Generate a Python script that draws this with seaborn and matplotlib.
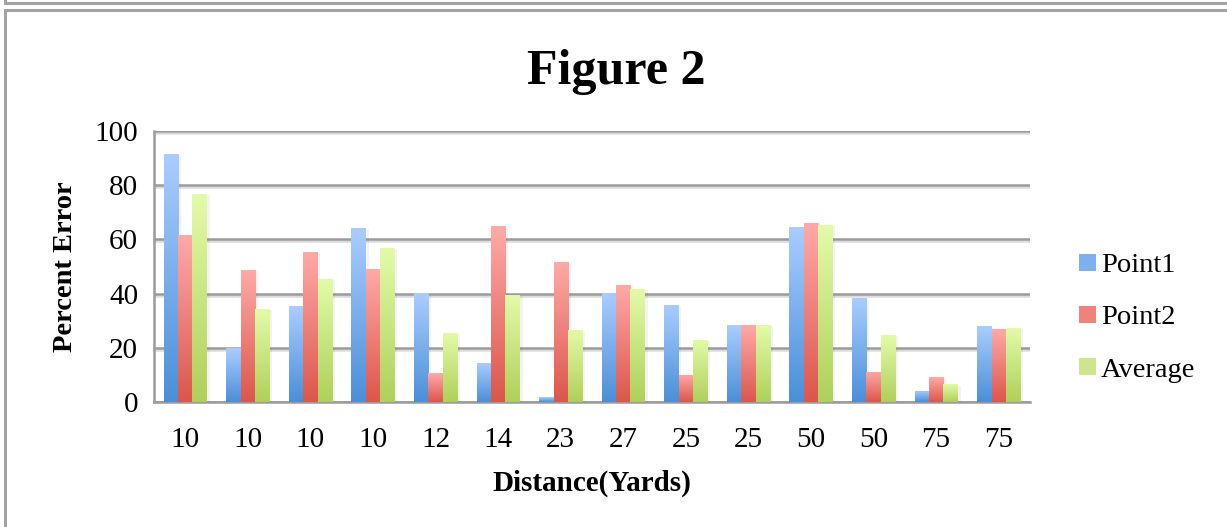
import numpy as np
import pandas as pd
import matplotlib
matplotlib.use("Agg")
import matplotlib.pyplot as plt
import matplotlib.patheffects as pe
from matplotlib.colors import LinearSegmentedColormap
from matplotlib.lines import Line2D
from matplotlib.patches import Patch
import seaborn as sns

# Distances (yards) for each trial, in recorded order
distances = ["10", "10", "10", "10", "12", "14", "23", "27", "25", "25", "50", "50", "75", "75"]
# Percent error per trial
point1 = [91.5, 19.9, 35.4, 64.2, 40.2, 14.4, 1.8, 40.2, 35.8, 28.4, 64.6, 38.4, 4.1, 28.0]
point2 = [61.6, 48.7, 55.4, 49.1, 10.7, 64.9, 51.7, 43.2, 10.0, 28.4, 66.1, 11.1, 9.2, 27.0]
average = [76.8, 34.3, 45.4, 56.8, 25.5, 39.5, 26.6, 41.7, 22.9, 28.4, 65.3, 24.7, 6.6, 27.4]
series_names = ["Point1", "Point2", "Average"]

# (bottom colour, top colour) of each bar gradient
gradients = {
    "Point1": ("#4a8fd8", "#aacdff"),
    "Point2": ("#dc564b", "#ffaaa8"),
    "Average": ("#afd05a", "#e3fba9"),
}
legend_colors = {"Point1": "#7fb0ee", "Point2": "#ef837b", "Average": "#cde58c"}

slots = [f"t{i:02d}" for i in range(len(distances))]
df = pd.DataFrame({
    "slot": slots * 3,
    "series": np.repeat(series_names, len(slots)),
    "value": point1 + point2 + average,
})

sns.set_theme(style="white")
plt.rcParams["font.family"] = ["Liberation Serif", "DejaVu Serif"]
plt.rcParams["text.color"] = "black"
plt.rcParams["axes.labelcolor"] = "black"

GRAY = "#9b9b9b"
fig = plt.figure(figsize=(12.27, 5.27), dpi=100)
ax = fig.add_axes([154 / 1227, 1 - 402 / 527, 876 / 1227, 271 / 527])

sns.barplot(data=df, x="slot", y="value", hue="series", order=slots,
            hue_order=series_names, palette=legend_colors, width=0.69,
            saturation=1, legend=False, ax=ax, zorder=3)

# Vertical gradient fill for every bar, clipped to the bar outline
grad = np.linspace(0, 1, 256).reshape(-1, 1)
for i, patch in enumerate(ax.patches):
    name = series_names[i // len(slots)]
    cmap = LinearSegmentedColormap.from_list(name, gradients[name])
    x0, y0 = patch.get_x(), patch.get_y()
    w, h = patch.get_width(), patch.get_height()
    patch.set_edgecolor("none")
    patch.set_path_effects([pe.SimplePatchShadow(offset=(2, -1), alpha=0.07, shadow_rgbFace="#555555"),
                            pe.Normal()])
    im = ax.imshow(grad, cmap=cmap, origin="lower", aspect="auto",
                   extent=[x0, x0 + w, y0, y0 + h], zorder=4)
    im.set_clip_path(patch)

ax.set_xlim(-0.5, len(slots) - 0.5)
ax.set_ylim(0, 100)
ax.set_yticks(range(0, 101, 20))
ax.set_xticks(range(len(slots)))
ax.set_xticklabels(distances)
ax.set_xticks(np.arange(-0.5, len(slots), 1.0), minor=True)

ax.yaxis.grid(True, color=GRAY, lw=1.8)
for gl in ax.get_ygridlines():
    gl.set_path_effects([pe.SimpleLineShadow(offset=(0, -1.5), alpha=0.15), pe.Normal()])
ax.set_axisbelow(True)

for side in ["top", "right"]:
    ax.spines[side].set_visible(False)
for side in ["left", "bottom"]:
    ax.spines[side].set_color(GRAY)
    ax.spines[side].set_linewidth(1.8)

ax.tick_params(axis="y", which="major", direction="out", length=6.5, width=1.8,
               color=GRAY, labelsize=21, pad=5, labelcolor="black")
ax.tick_params(axis="x", which="major", length=0, labelsize=21, pad=18, labelcolor="black")
ax.tick_params(axis="x", which="minor", direction="out", length=5, width=1.8, color=GRAY)

ax.set_xlabel("Distance(Yards)", fontsize=21, fontweight="bold", labelpad=12, color="black")
ax.set_ylabel("Percent Error", fontsize=20.5, fontweight="bold", labelpad=12, color="black")

fig.text(616 / 1227, 1 - 72 / 527, "Figure 2", fontsize=36, fontweight="bold",
         ha="center", va="center", color="black")

handles = [Patch(facecolor=legend_colors[n], edgecolor="none") for n in series_names]
fig.legend(handles, series_names, loc="center left",
           bbox_to_anchor=(1079 / 1227, 1 - 318 / 527), frameon=False,
           fontsize=20.5, handlelength=0.58, handleheight=0.58, handletextpad=0.2,
           labelspacing=0.95, borderpad=0, borderaxespad=0, labelcolor="black")

# Frame lines of the chart area
for coords in [
    ([5, 5], [0, 2.5]),
    ([5, 1227], [2.5, 2.5]),
    ([5, 5], [10, 527]),
    ([5, 1227], [10, 10]),
]:
    xs = [c / 1227 for c in coords[0]]
    ys = [1 - c / 527 for c in coords[1]]
    fig.add_artist(Line2D(xs, ys, color="#a3a3a3", lw=2.2, transform=fig.transFigure))

fig.savefig("out.png", dpi=100, facecolor="white")
